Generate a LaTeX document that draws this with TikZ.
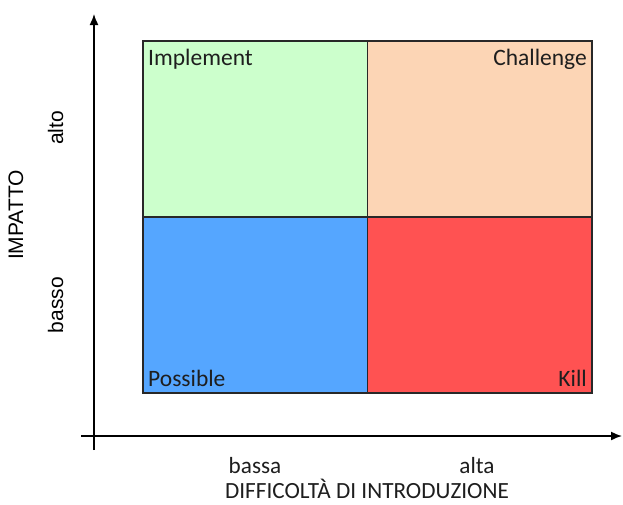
\documentclass[tikz,border=0pt]{standalone}
\usepackage{fontspec}
\setmainfont{Carlito}
\newfontfamily\arialf{Liberation Sans}
\usetikzlibrary{arrows.meta}
\definecolor{qgreen}{RGB}{204,255,204}
\definecolor{qpeach}{RGB}{252,213,181}
\definecolor{qblue}{RGB}{85,166,255}
\definecolor{qred}{RGB}{255,82,82}
\definecolor{qline}{RGB}{40,40,40}
\definecolor{qtext}{RGB}{30,30,30}
\tikzset{
  quad/.style={draw=qline, line width=1.2pt, minimum width=224.5pt, minimum height=176pt, inner sep=0pt, outer sep=0pt},
  qlabel/.style={font=\fontsize{23.5}{23.5}\selectfont, text=qtext, inner sep=0pt},
  axislabel/.style={font=\fontsize{23.2}{23.2}\selectfont, text=qtext, inner sep=0pt},
  sidelabel/.style={font=\arialf\fontsize{21}{21}\selectfont, text=black, inner sep=0pt, rotate=90, anchor=base},
  axis/.style={line width=1.5pt, -{Latex[length=11pt,width=9pt]}}
}
\begin{document}
\begin{tikzpicture}[x=1pt,y=-1pt]
\useasboundingbox (0,0) rectangle (623,504);
\fill[white] (0,0) rectangle (623,504);
% quadrants
\node[quad, fill=qgreen] (impl) at (255.25,129) {};
\node[quad, fill=qpeach] (chal) at (479.75,129) {};
\node[quad, fill=qblue] (poss) at (255.25,305) {};
\node[quad, fill=qred] (kill) at (479.75,305) {};
% quadrant labels
\node[qlabel, anchor=base west] (limpl) at (148,65) {Implement};
\node[qlabel, anchor=base east] (lchal) at (587,65) {Challenge};
\node[qlabel, anchor=base west] (lposs) at (148,386) {Possible};
\node[qlabel, anchor=base east] (lkill) at (587,386) {Kill};
% axes
\coordinate (yb) at (94,450);
\coordinate (yt) at (94,14);
\coordinate (xl) at (81,436);
\coordinate (xr) at (622,436);
\draw[axis] (yb) -- (yt);
\draw[axis] (xl) -- (xr);
% axis labels
\node[axislabel, anchor=base] (bassa) at (255,473) {bassa};
\node[axislabel, anchor=base] (alta) at (477,473) {alta};
\node[axislabel, anchor=base] (diff) at (367,498) {DIFFICOLTÀ DI INTRODUZIONE};
\node[sidelabel] (alto) at (63,128) {alto};
\node[sidelabel] (basso) at (63,305) {basso};
\node[sidelabel] (imp) at (23,215) {IMPATTO};
\end{tikzpicture}
\end{document}
